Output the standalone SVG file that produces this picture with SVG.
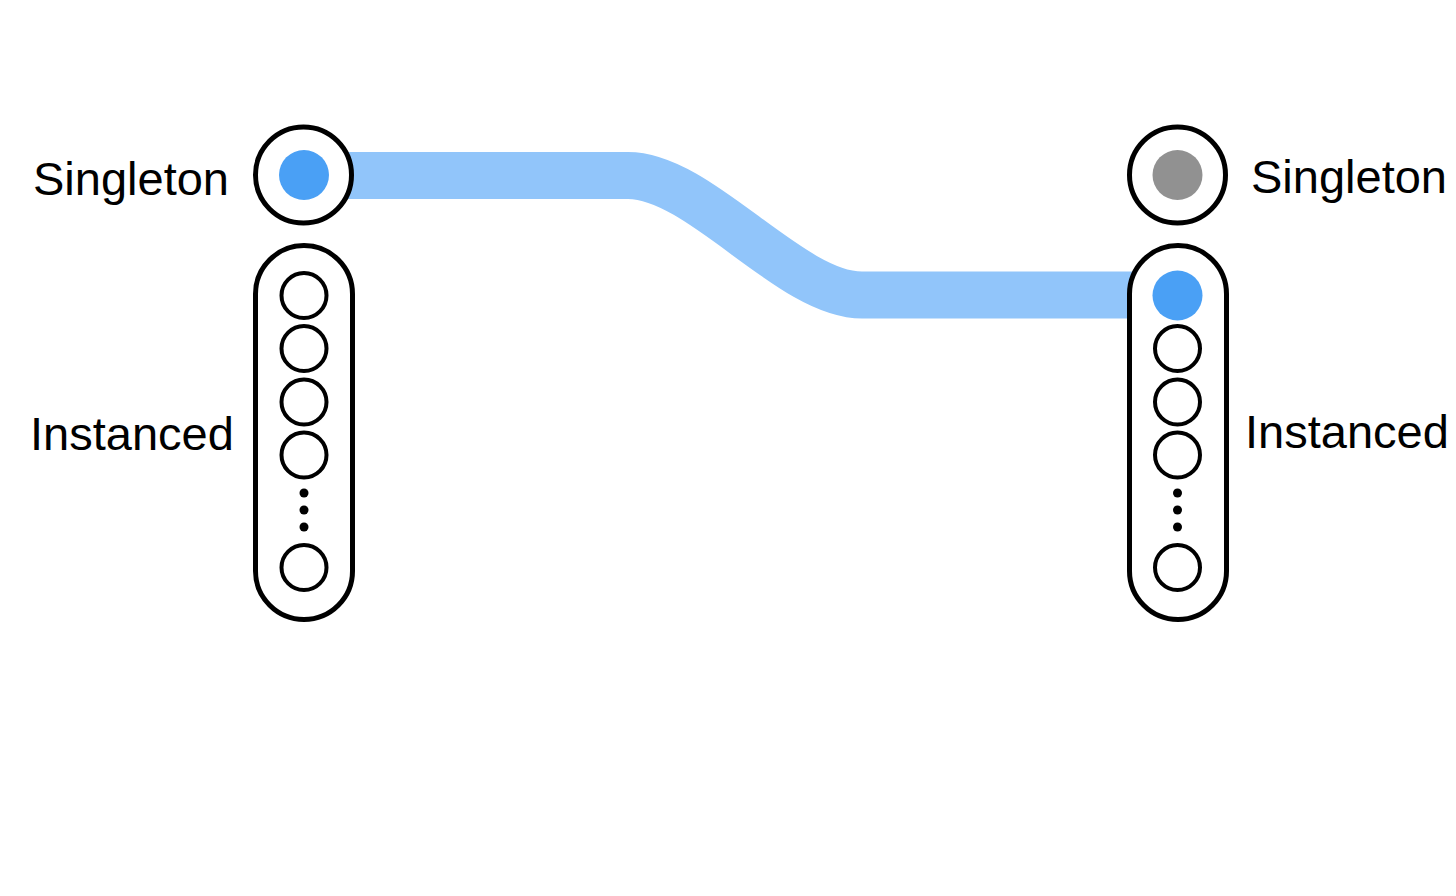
<svg xmlns="http://www.w3.org/2000/svg" width="1456" height="896" viewBox="0 0 1456 896">
<style>
.lbl{font-family:"Liberation Sans",Arial,sans-serif;font-size:47px;fill:#000}
.ring{fill:#fff;stroke:#000;stroke-width:5}
.cap{fill:#fff;stroke:#000;stroke-width:5}
.slot{fill:#fff;stroke:#000;stroke-width:4}
.dot{fill:#000}
.active{fill:#4aa0f5}
.idle{fill:#919191}
</style>
<rect width="1456" height="896" fill="#fff"/>
<g id="connectors">
<path d="M330 175.5 H628 C700 175.5 790 295 862 295 H1150" fill="none" stroke="#91c5fa" stroke-width="47"/>
</g>
<g id="left-singleton">
<circle class="ring" cx="303.5" cy="175" r="48"/>
<circle class="active" cx="304" cy="175" r="25"/>
<text class="lbl" x="33" y="195">Singleton</text>
</g>
<g id="left-instanced">
<rect class="cap" x="255.5" y="245.5" width="97" height="374" rx="48.5"/>
<circle class="slot" cx="304" cy="295.5" r="22.5"/>
<circle class="slot" cx="304" cy="348.5" r="22.5"/>
<circle class="slot" cx="304" cy="402" r="22.5"/>
<circle class="slot" cx="304" cy="455" r="22.5"/>
<circle class="dot" cx="304" cy="493" r="4.5"/>
<circle class="dot" cx="304" cy="510" r="4.5"/>
<circle class="dot" cx="304" cy="527" r="4.5"/>
<circle class="slot" cx="304" cy="567.5" r="22.5"/>
<text class="lbl" x="30" y="450">Instanced</text>
</g>
<g id="right-singleton">
<circle class="ring" cx="1177.5" cy="175" r="48"/>
<circle class="idle" cx="1177.5" cy="175" r="25"/>
<text class="lbl" x="1251" y="193">Singleton</text>
</g>
<g id="right-instanced">
<rect class="cap" x="1129.5" y="245.5" width="97" height="374" rx="48.5"/>
<circle class="active" cx="1177.5" cy="295.5" r="25"/>
<circle class="slot" cx="1177.5" cy="348.5" r="22.5"/>
<circle class="slot" cx="1177.5" cy="402" r="22.5"/>
<circle class="slot" cx="1177.5" cy="455" r="22.5"/>
<circle class="dot" cx="1177.5" cy="493" r="4.5"/>
<circle class="dot" cx="1177.5" cy="510" r="4.5"/>
<circle class="dot" cx="1177.5" cy="527" r="4.5"/>
<circle class="slot" cx="1177.5" cy="567.5" r="22.5"/>
<text class="lbl" x="1245" y="448">Instanced</text>
</g>
</svg>
